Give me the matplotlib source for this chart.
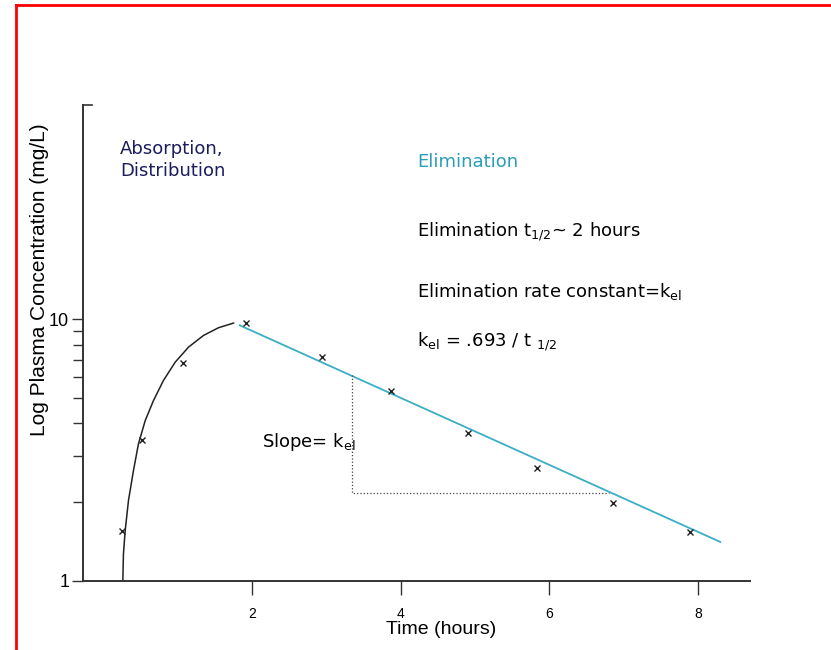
import numpy as np
import matplotlib.pyplot as plt
from matplotlib.lines import Line2D

# Courbe d'absorption / distribution
abs_t = [0.256, 0.264, 0.287, 0.332, 0.399, 0.466, 0.557, 0.668, 0.803, 0.961, 1.140, 1.342, 1.544, 1.747]
abs_c = [1.0, 1.265, 1.55, 2.03, 2.64, 3.34, 4.10, 4.89, 5.84, 6.86, 7.83, 8.68, 9.29, 9.68]

# Points mesurés
pts_t = [0.24, 0.51, 1.07, 1.91, 2.94, 3.87, 4.90, 5.83, 6.86, 7.89]
pts_c = [1.55, 3.47, 6.8, 9.66, 7.2, 5.3, 3.69, 2.71, 1.99, 1.54]

# Droite d'élimination
elim_t = [1.83, 8.30]
elim_c = [9.49, 1.41]

# Triangle de pente
tri_t = [3.34, 3.34, 6.80]
tri_c = [6.15, 2.17, 2.17]

navy = '#1c1c5e'
teal = '#2a9db8'
W, H = 831, 650

def px(x, y):
    return x / W, 1 - y / H

fig = plt.figure(figsize=(8.31, 6.5), dpi=100)
ax = fig.add_axes([0.0999, 0.1062, 0.8026, 0.7323])

ax.plot(abs_t, abs_c, color='#222222', lw=1.1)
ax.plot(elim_t, elim_c, color='#3aaec6', lw=1.3)
ax.plot(tri_t, tri_c, color='#444444', lw=0.9, linestyle=':')
ax.plot(pts_t, pts_c, linestyle='none', marker='x', color='#222222', ms=4, mew=1.0)

ax.set_yscale('log')
ax.set_xlim(-0.28, 8.7)
ax.set_ylim(1, 66)

ax.set_xticks([2, 4, 6, 8])
ax.set_xticklabels(['2', '4', '6', '8'], fontsize=10, family='Liberation Sans')
ax.set_yticks([1, 10])
ax.set_yticklabels(['1', '10'], fontsize=13, family='Liberation Sans')
ax.set_yticks([2, 3, 4, 5, 6, 7, 8, 9], minor=True)
ax.yaxis.set_minor_formatter(plt.NullFormatter())
ax.tick_params(axis='x', length=10, width=1.0, color='#333333', pad=9)
ax.tick_params(axis='y', which='major', length=8, width=1.0, color='#333333', pad=2)
ax.tick_params(axis='y', which='minor', length=7, width=1.0, color='#333333')

for s in ['top', 'right']:
    ax.spines[s].set_visible(False)
for s in ['left', 'bottom']:
    ax.spines[s].set_color('#333333')
    ax.spines[s].set_linewidth(1.4)

# petit trait en haut de l'axe y
ax.add_line(Line2D([0, 0.013], [1, 1], transform=ax.transAxes, color='#333333', lw=1.2, clip_on=False))

# Titres des axes
fig.text(*px(441, 630), 'Time (hours)', fontsize=14, family='Liberation Sans', ha='center', va='center')
fig.text(*px(40, 280), 'Log Plasma Concentration (mg/L)', fontsize=15, family='Liberation Sans',
         rotation=90, ha='center', va='center')

# Textes
fig.text(*px(120, 160), 'Absorption,\nDistribution', fontsize=13, color=navy, va='center',
         linespacing=1.25)
fig.text(*px(417, 162), 'Elimination', fontsize=13, color=teal, va='center')
fig.text(*px(417, 232), r'Elimination t$\mathregular{_{1/2}}$~ 2 hours', fontsize=13, va='center')
fig.text(*px(417, 292), r'Elimination rate constant=k$\mathregular{_{el}}$', fontsize=13, va='center')
fig.text(*px(417, 342), r'k$\mathregular{_{el}}$ = .693 / t $\mathregular{_{1/2}}$', fontsize=13, va='center')
fig.text(*px(262, 442), r'Slope= k$\mathregular{_{el}}$', fontsize=13, va='center')

# cadre rouge (haut et gauche)
fig.add_artist(Line2D([16 / W, 1], [1 - 5 / H, 1 - 5 / H], transform=fig.transFigure, color='red', lw=2))
fig.add_artist(Line2D([16 / W, 16 / W], [0, 1 - 5 / H], transform=fig.transFigure, color='red', lw=2))

plt.savefig('out.png', dpi=100)
